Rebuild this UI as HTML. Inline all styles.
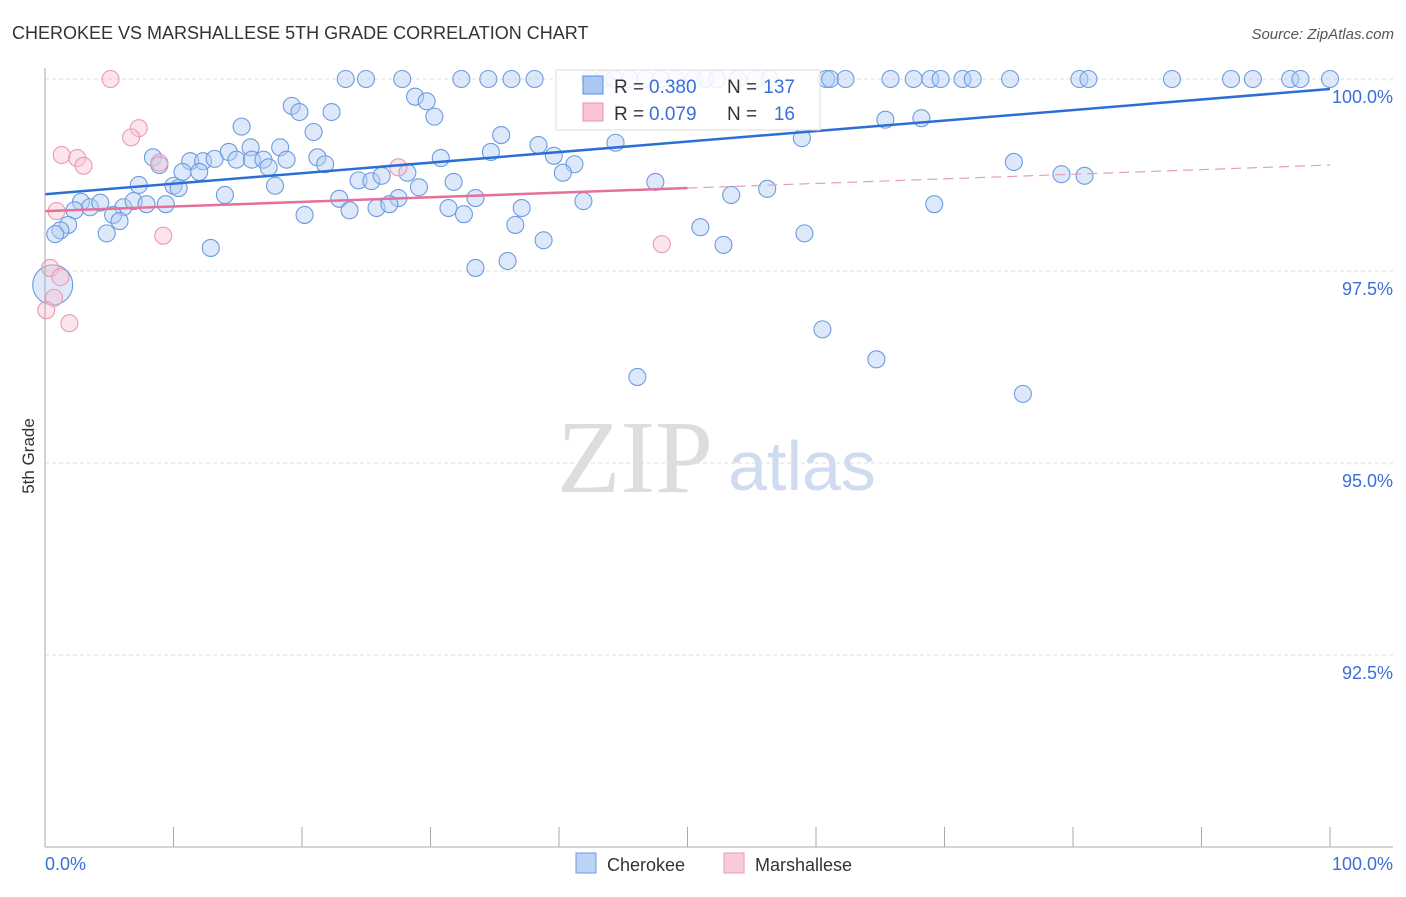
<!DOCTYPE html>
<html><head><meta charset="utf-8"><style>
body{margin:0;background:#fff;font-family:"Liberation Sans",sans-serif}
</style></head><body>
<svg id="c" width="1406" height="892" xmlns="http://www.w3.org/2000/svg" font-family="Liberation Sans, sans-serif">
<text x="12" y="39" font-size="18" fill="#333">CHEROKEE VS MARSHALLESE 5TH GRADE CORRELATION CHART</text>
<text x="1394" y="39" font-size="15" fill="#555" text-anchor="end" font-style="italic">Source: ZipAtlas.com</text>
<text x="34" y="456" font-size="17" fill="#333" transform="rotate(-90 34 456)" text-anchor="middle">5th Grade</text>
<g><text x="635" y="492" font-size="104" fill="#ddd" style="font-family:'Liberation Serif',serif" text-anchor="middle">ZIP</text><text x="802" y="490" font-size="70" fill="#cfdcf0" text-anchor="middle">atlas</text></g>
<g id="grid"></g><g id="marks"></g><g id="lines"></g>
<line x1="45" y1="68" x2="45" y2="847" stroke="#aaa"/>
<line x1="45" y1="847" x2="1393" y2="847" stroke="#aaa"/>
<text x="45" y="870" font-size="18" fill="#3a6fd8">0.0%</text>
<text x="1393" y="870" font-size="18" fill="#3a6fd8" text-anchor="end">100.0%</text>
<g>
<rect x="556" y="70" width="264" height="60" fill="#fff" fill-opacity="0.85" stroke="#ddd"/>
<rect x="583" y="76" width="20" height="18" fill="#a9c7f0" stroke="#5b8fe0"/>
<text x="614" y="93" font-size="19" fill="#333">R =</text><text x="649" y="93" font-size="19" fill="#3a6fd8">0.380</text>
<text x="727" y="93" font-size="19" fill="#333">N =</text><text x="795" y="93" font-size="19" fill="#3a6fd8" text-anchor="end">137</text>
<rect x="583" y="103" width="20" height="18" fill="#f8c3d2" stroke="#e890aa"/>
<text x="614" y="120" font-size="19" fill="#333">R =</text><text x="649" y="120" font-size="19" fill="#3a6fd8">0.079</text>
<text x="727" y="120" font-size="19" fill="#333">N =</text><text x="795" y="120" font-size="19" fill="#3a6fd8" text-anchor="end">16</text>
</g>
<g>
<rect x="576" y="853" width="20" height="20" fill="#bcd3f3" stroke="#6d9be0"/><text x="607" y="871" font-size="18" fill="#333">Cherokee</text>
<rect x="724" y="853" width="20" height="20" fill="#f9cad7" stroke="#e99ab1"/><text x="755" y="871" font-size="18" fill="#333">Marshallese</text>
</g>
</svg>
<script>
const yTicks=[100,97.5,95,92.5];
const yTickLabels=["100.0%","97.5%","95.0%","92.5%"];
const xTicks=[10,20,30,40,50,60,70,80,90,100];
const blueX=[23.4,24.98,27.8,32.4,34.5,36.3,38.1,42.4,43.5,44.3,45.5,46.7,47.9,49.1,50.5,51.4,52.3,53.9,55.3,56.4,60.8,61.1,62.3,65.8,67.6,68.9,69.7,71.4,72.2,75.1,80.5,81.2,87.7,92.3,94.0,96.9,97.7,100,
19.2,19.8,22.3,28.8,29.7,30.3,15.3,20.9,35.5,16.0,18.3,38.4,44.4,65.4,68.2,58.9,8.4,11.3,12.3,13.2,14.3,14.9,16.1,17.0,17.4,18.8,21.2,21.8,8.9,10.7,12.0,30.8,34.7,39.6,41.2,40.3,75.4,79.1,80.9,7.3,10.0,10.4,17.9,24.4,25.4,26.2,28.2,29.1,31.8,47.5,56.2,53.4,14.0,22.9,27.5,33.5,41.9,2.8,3.5,4.3,2.3,6.1,6.9,7.9,9.4,5.3,5.8,20.2,23.7,25.8,26.8,31.4,32.6,37.1,69.2,1.8,1.2,0.8,4.8,12.9,36.6,38.8,51.0,52.8,59.1,33.5,36.0,60.5,64.7,46.1,76.1,0.6];
const blueY=[100,100,100,100,100,100,100,100,100,100,100,100,100,100,100,100,100,100,100,100,100,100,100,100,100,100,100,100,100,100,100,100,100,100,100,100,100,100,
99.65,99.57,99.57,99.77,99.71,99.51,99.38,99.31,99.27,99.11,99.11,99.14,99.17,99.47,99.49,99.23,98.98,98.93,98.93,98.96,99.05,98.95,98.95,98.95,98.85,98.95,98.98,98.89,98.88,98.79,98.79,98.97,99.05,99.0,98.89,98.78,98.92,98.76,98.74,98.62,98.61,98.58,98.61,98.68,98.67,98.74,98.78,98.59,98.66,98.66,98.57,98.49,98.49,98.44,98.45,98.45,98.41,98.40,98.33,98.39,98.29,98.33,98.41,98.37,98.37,98.23,98.15,98.23,98.29,98.32,98.37,98.32,98.24,98.32,98.37,98.10,98.03,97.98,97.99,97.80,98.10,97.90,98.07,97.84,97.99,97.54,97.63,96.74,96.35,96.12,95.90,97.32];
const pinkX=[5.1,7.3,6.7,1.3,2.5,3.0,8.9,27.5,0.9,9.2,48.0,0.4,1.2,0.7,0.1,1.9];
const pinkY=[100,99.36,99.24,99.01,98.97,98.87,98.91,98.85,98.28,97.96,97.85,97.54,97.42,97.15,96.99,96.82];
const blueTrend=[98.50,99.87];
const pinkTrend=[98.28,98.88];
const pinkSolidEnd=50;
const X=v=>45+v*12.85, Y=v=>79+(100-v)*76.8;
const NS="http://www.w3.org/2000/svg";
function mk(t,a,p){const e=document.createElementNS(NS,t);for(const k in a)e.setAttribute(k,a[k]);document.getElementById(p).appendChild(e);return e;}
yTicks.forEach((t,i)=>{
 const l=mk('line',{x1:45,x2:1393,y1:Y(t),y2:Y(t),stroke:'#ddd','stroke-dasharray':'4,3'},'grid');
 
 
 const tx=mk('text',{x:1393,y:Y(t)+24,'font-size':18,fill:'#3a6fd8','text-anchor':'end'},'grid');
 tx.textContent=yTickLabels[i];
 
 
});
xTicks.forEach(t=>{
 const l=mk('line',{x1:X(t),x2:X(t),y1:827,y2:847,stroke:'#aaa'},'grid');
 
 
});
blueX.forEach((x,i)=>{
 const big=i===blueX.length-1;
 const c=mk('circle',{cx:X(x),cy:Y(blueY[i]),r:big?20:8.5,fill:'#b4cff3','fill-opacity':0.45,stroke:'#6d9be0','stroke-width':1.1},'marks');
 
 
});
pinkX.forEach((x,i)=>{
 const c=mk('circle',{cx:X(x),cy:Y(pinkY[i]),r:8.5,fill:'#f8c3d2','fill-opacity':0.45,stroke:'#e99ab1','stroke-width':1.1},'marks');
 
 
});
const bl=mk('line',{x1:X(0),y1:Y(blueTrend[0]),x2:X(100),y2:Y(blueTrend[1]),stroke:'#2a6fd6','stroke-width':2.5},'lines');


const pv=x=>pinkTrend[0]+(pinkTrend[1]-pinkTrend[0])*x/100;
const pl=mk('line',{x1:X(0),y1:Y(pv(0)),x2:X(pinkSolidEnd),y2:Y(pv(pinkSolidEnd)),stroke:'#e5709a','stroke-width':2.5},'lines');


const pd=mk('line',{x1:X(pinkSolidEnd),y1:Y(pv(pinkSolidEnd)),x2:X(100),y2:Y(pv(100)),stroke:'#e5a0b8','stroke-width':1.2,'stroke-dasharray':'10,6'},'lines');


</script>
</body></html>
